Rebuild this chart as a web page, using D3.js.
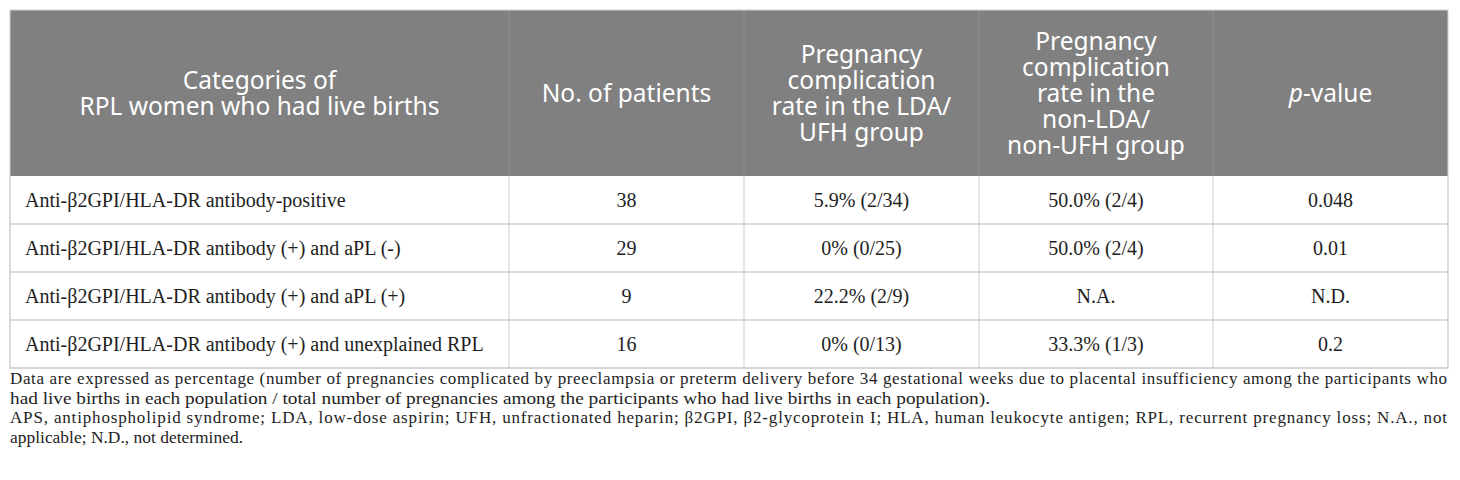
<!DOCTYPE html>
<html>
<head>
<meta charset="utf-8">
<script src="https://cdn.jsdelivr.net/npm/d3@7"></script>
<style>
  body { margin: 0; background: #fff; }
  svg { display: block; }
</style>
</head>
<body>
<div id="table"></div>
<script>
// --- Pregnancy complication rate table ---
const headers = [
    ["Categories of", "RPL women who had live births"],
    ["No. of patients"],
    ["Pregnancy", "complication", "rate in the LDA/", "UFH group"],
    ["Pregnancy", "complication", "rate in the", "non-LDA/", "non-UFH group"],
    ["p-value"]
];
const categories = [
    "Anti-β2GPI/HLA-DR antibody-positive",
    "Anti-β2GPI/HLA-DR antibody (+) and aPL (-)",
    "Anti-β2GPI/HLA-DR antibody (+) and aPL (+)",
    "Anti-β2GPI/HLA-DR antibody (+) and unexplained RPL"
];
const patients = ["38", "29", "9", "16"];
const ldaRate = ["5.9% (2/34)", "0% (0/25)", "22.2% (2/9)", "0% (0/13)"];
const nonLdaRate = ["50.0% (2/4)", "50.0% (2/4)", "N.A.", "33.3% (1/3)"];
const pValues = ["0.048", "0.01", "N.D.", "0.2"];
const footnotes = [
    "Data are expressed as percentage (number of pregnancies complicated by preeclampsia or preterm delivery before 34 gestational weeks due to placental insufficiency among the participants who",
    "had live births in each population / total number of pregnancies among the participants who had live births in each population).",
    "APS, antiphospholipid syndrome; LDA, low-dose aspirin; UFH, unfractionated heparin; β2GPI, β2-glycoprotein I; HLA, human leukocyte antigen; RPL, recurrent pregnancy loss; N.A., not",
    "applicable; N.D., not determined."
];
// measured line lengths of the footnote block (1st and 3rd are justified)
const footWidths = [1437, 980, 1437, 233];

const width = 1460, height = 480;
const tLeft = 10, tRight = 1448, tTop = 10, headH = 166, rowH = 48;
const colWeights = [499, 235, 235, 234, 235];

const svg = d3.select("#table")
    .append("svg")
    .attr("width", width)
    .attr("height", height);

// column edges
const edges = [0, ...d3.cumsum(colWeights)];
const x = d3.scaleLinear().domain([0, d3.sum(colWeights)]).range([tLeft, tRight]);
const colX = i => x(edges[i]);
const colMid = i => (x(edges[i]) + x(edges[i + 1])) / 2;

const y = d3.scaleBand()
    .domain(d3.range(categories.length))
    .range([tTop + headH, tTop + headH + rowH * categories.length]);

// header
svg.append("rect")
    .attr("x", tLeft).attr("y", tTop)
    .attr("width", tRight - tLeft).attr("height", headH)
    .attr("fill", "#808080");

const lineH = 26;
const headCenter = tTop + headH / 2;
headers.forEach((lines, i) => {
    const t = svg.append("text")
        .attr("text-anchor", "middle")
        .attr("font-family", "'Noto Sans', 'Open Sans', sans-serif")
        .attr("font-size", 24.5)
        .attr("fill", "#fff");
    lines.forEach((ln, j) => {
        const ty = headCenter + (j - (lines.length - 1) / 2) * lineH + 9;
        if (ln === "p-value") {
            const ts = t.append("tspan").attr("x", colMid(i)).attr("y", ty);
            ts.append("tspan").attr("font-style", "italic").text("p");
            ts.append("tspan").text("-value");
        } else {
            t.append("tspan").attr("x", colMid(i)).attr("y", ty).text(ln);
        }
    });
});

// header column separators
svg.selectAll(".hsep")
    .data(d3.range(1, colWeights.length))
    .enter().append("line")
    .attr("class", "hsep")
    .attr("x1", d => colX(d)).attr("x2", d => colX(d))
    .attr("y1", tTop).attr("y2", tTop + headH)
    .attr("stroke", "#8e8e8e").attr("stroke-width", 1);

// body rows
const rows = categories.map((c, i) => [c, patients[i], ldaRate[i], nonLdaRate[i], pValues[i]]);

const g = svg.selectAll(".row")
    .data(rows)
    .enter().append("g")
    .attr("class", "row")
    .attr("transform", (d, i) => `translate(0,${y(i)})`);

g.selectAll("text")
    .data(d => d)
    .enter().append("text")
    .attr("x", (d, i) => i === 0 ? colX(0) + 15 : colMid(i))
    .attr("y", rowH / 2 + 7)
    .attr("text-anchor", (d, i) => i === 0 ? "start" : "middle")
    .attr("font-family", "'Liberation Serif', 'Times New Roman', serif")
    .attr("font-size", 20)
    .attr("fill", "#1e1e1e")
    .text(d => d);

// grid lines
const bodyTop = tTop + headH, bodyBottom = y.range()[1];
svg.selectAll(".rline")
    .data(d3.range(1, categories.length + 1))
    .enter().append("line")
    .attr("class", "rline")
    .attr("x1", tLeft).attr("x2", tRight)
    .attr("y1", d => bodyTop + d * rowH).attr("y2", d => bodyTop + d * rowH)
    .attr("stroke", "#cfcfcf").attr("stroke-width", 1.5);

svg.selectAll(".cline")
    .data(d3.range(0, colWeights.length + 1))
    .enter().append("line")
    .attr("class", "cline")
    .attr("x1", d => colX(d)).attr("x2", d => colX(d))
    .attr("y1", bodyTop).attr("y2", bodyBottom)
    .attr("stroke", "#cfcfcf").attr("stroke-width", 1);

svg.append("rect")
    .attr("x", tLeft).attr("y", tTop)
    .attr("width", tRight - tLeft).attr("height", bodyBottom - tTop)
    .attr("fill", "none")
    .attr("stroke", "#cfcfcf").attr("stroke-width", 1);

// footnotes
svg.selectAll(".foot")
    .data(footnotes)
    .enter().append("text")
    .attr("class", "foot")
    .attr("x", tLeft)
    .attr("y", (d, i) => bodyBottom + 16 + i * 19.5)
    .attr("font-family", "'Liberation Serif', 'Times New Roman', serif")
    .attr("font-size", 17)
    .attr("fill", "#1e1e1e")
    .attr("textLength", (d, i) => footWidths[i])
    .attr("lengthAdjust", (d, i) => (i === 0 || i === 2) ? "spacing" : "spacingAndGlyphs")
    .text(d => d);
</script>
</body>
</html>
